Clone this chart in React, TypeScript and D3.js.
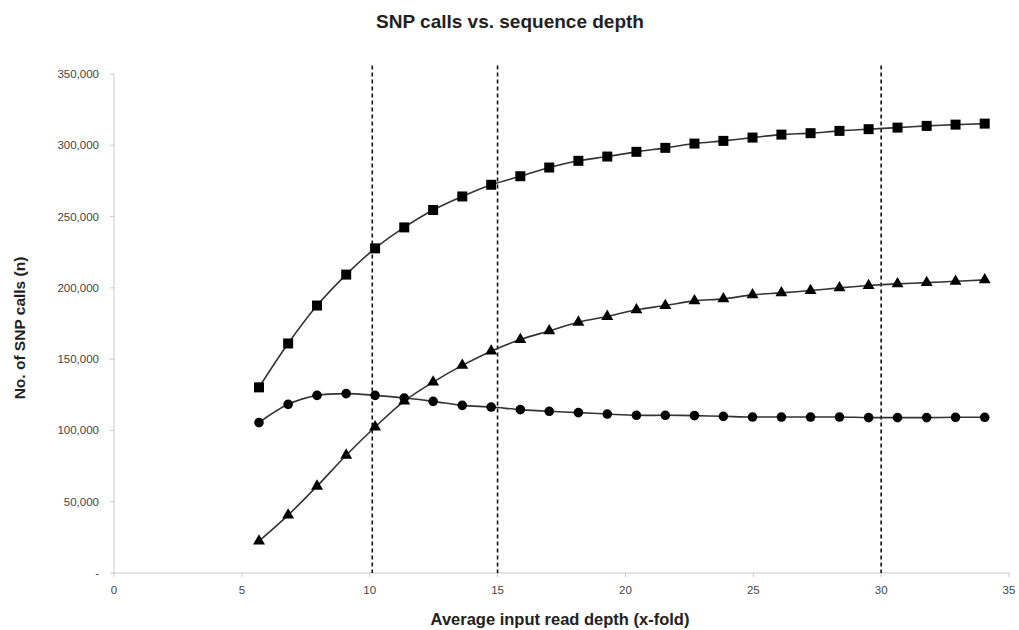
import React from "react";
import * as d3 from "d3";

const depth = [5.67, 6.81, 7.94, 9.08, 10.21, 11.35, 12.48, 13.62, 14.75, 15.89, 17.02, 18.16, 19.29, 20.43, 21.56, 22.7, 23.83, 24.97, 26.1, 27.24, 28.37, 29.51, 30.64, 31.78, 32.91, 34.05];
const squareSeries = [130200, 161000, 187600, 209300, 227700, 242400, 254600, 264100, 272300, 278300, 284400, 289100, 292100, 295400, 298200, 301200, 303100, 305400, 307500, 308500, 310100, 311300, 312400, 313600, 314500, 315200];
const triangleSeries = [22400, 40600, 60900, 82600, 102400, 120600, 133900, 145600, 155600, 163700, 169800, 175900, 179900, 184600, 187600, 190900, 192300, 195100, 196500, 198100, 200000, 201600, 202800, 203700, 204600, 205600];
const circleSeries = [105500, 118300, 124600, 125800, 124600, 122700, 120400, 117600, 116400, 114600, 113400, 112500, 111500, 110600, 110600, 110400, 109900, 109400, 109400, 109400, 109400, 109000, 109000, 109000, 109200, 109200];
const refLines = [10.1, 15, 30];
const xTicks = [0, 5, 10, 15, 20, 25, 30, 35];
const yTicks = [0, 50000, 100000, 150000, 200000, 250000, 300000, 350000];

const W = 1019;
const H = 630;
const font = "'Liberation Sans', Arial, Helvetica, sans-serif";

export default function App() {
  const x = d3.scaleLinear().domain([0, 35]).range([114, 1009]);
  const y = d3.scaleLinear().domain([0, 350000]).range([573, 74]);
  const line = d3
    .line<number>()
    .x((_, i) => x(depth[i]))
    .y((d) => y(d))
    .curve(d3.curveCatmullRom.alpha(0.5));
  const fmt = (v: number) => (v === 0 ? "-" : d3.format(",")(v));
  const triPath = d3.symbol(d3.symbolTriangle, 62)();

  return (
    <svg
      width={W}
      height={H}
      style={{ position: "absolute", left: 0, top: 0, display: "block", background: "#fff" }}
      fontFamily={font}
    >
      <rect x={0} y={0} width={W} height={H} fill="#fff" />
      <text x={510} y={28} textAnchor="middle" fontSize={19} fontWeight="bold" fill="#222">
        SNP calls vs. sequence depth
      </text>

      {/* axes */}
      <line x1={x(0)} x2={x(0)} y1={y(350000)} y2={y(0)} stroke="#c8c8c8" strokeWidth={1} />
      <line x1={x(0)} x2={x(35)} y1={y(0)} y2={y(0)} stroke="#c8c8c8" strokeWidth={1} />
      {yTicks.map((t) => (
        <g key={"y" + t}>
          <line x1={x(0) - 4} x2={x(0)} y1={y(t)} y2={y(t)} stroke="#c8c8c8" />
          <text x={99} y={y(t) + 4} textAnchor="end" fontSize={11.5} fill="#444">
            {fmt(t)}
          </text>
        </g>
      ))}
      {xTicks.map((t) => (
        <g key={"x" + t}>
          <line x1={x(t)} x2={x(t)} y1={y(0)} y2={y(0) + 4} stroke="#c8c8c8" />
          <text x={x(t)} y={y(0) + 21} textAnchor="middle" fontSize={11.5} fill="#444">
            {t}
          </text>
        </g>
      ))}
      <text
        transform={`translate(25, 328) rotate(-90)`}
        textAnchor="middle"
        fontSize={15.5}
        fontWeight="bold"
        fill="#222"
      >
        No. of SNP calls (n)
      </text>
      <text x={560} y={625} textAnchor="middle" fontSize={16.5} fontWeight="bold" fill="#222">
        Average input read depth (x-fold)
      </text>

      {/* reference dashed lines */}
      {refLines.map((r) => (
        <line
          key={"r" + r}
          x1={x(r)}
          x2={x(r)}
          y1={y(356000)}
          y2={y(0)}
          stroke="#111"
          strokeWidth={1.6}
          strokeDasharray="4,3"
        />
      ))}

      {/* series lines */}
      <path d={line(squareSeries) || ""} fill="none" stroke="#333" strokeWidth={1.6} />
      <path d={line(triangleSeries) || ""} fill="none" stroke="#333" strokeWidth={1.6} />
      <path d={line(circleSeries) || ""} fill="none" stroke="#333" strokeWidth={1.6} />

      {/* markers */}
      {squareSeries.map((v, i) => (
        <rect key={"s" + i} x={x(depth[i]) - 5} y={y(v) - 5} width={10} height={10} fill="#000" />
      ))}
      {triangleSeries.map((v, i) => (
        <path key={"t" + i} d={triPath || ""} transform={`translate(${x(depth[i])},${y(v)})`} fill="#000" />
      ))}
      {circleSeries.map((v, i) => (
        <circle key={"c" + i} cx={x(depth[i])} cy={y(v)} r={4.8} fill="#000" />
      ))}
    </svg>
  );
}
